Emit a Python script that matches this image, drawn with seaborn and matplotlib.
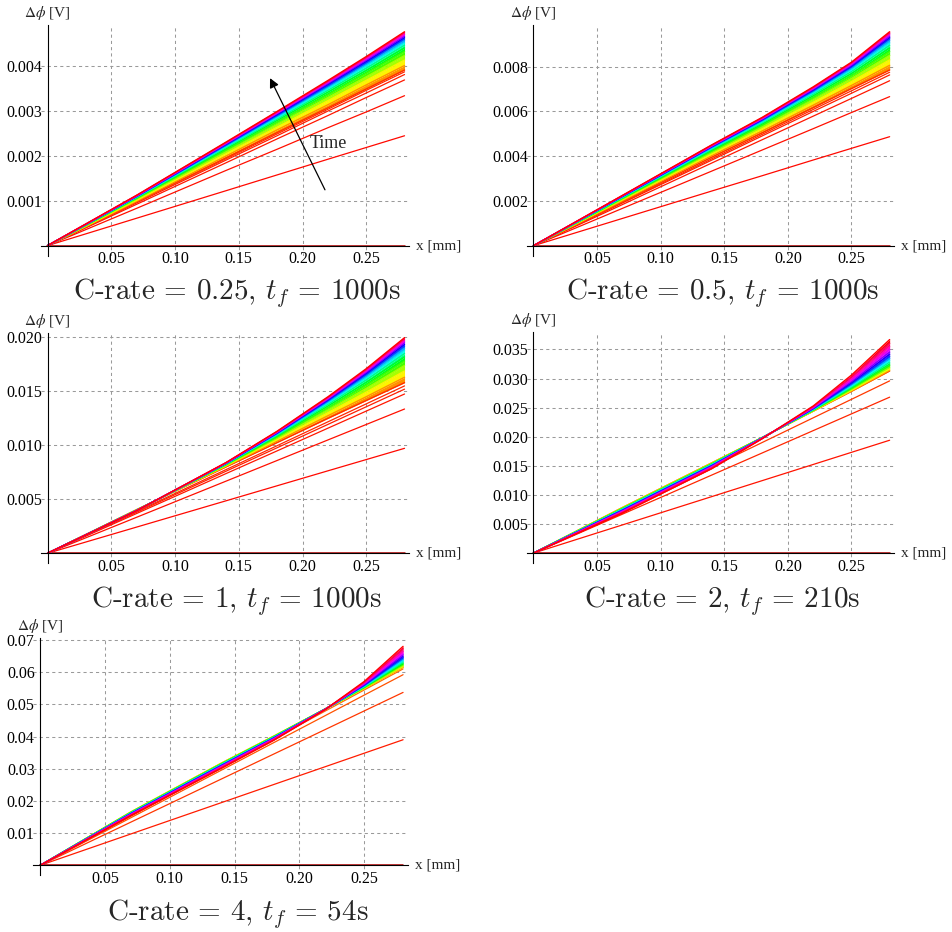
import numpy as np
import pandas as pd
import matplotlib
matplotlib.use('Agg')
import matplotlib.pyplot as plt
from matplotlib.colors import hsv_to_rgb
from matplotlib.ticker import AutoMinorLocator, FixedLocator, FixedFormatter
import seaborn as sns

x_mm = [0, 0.07, 0.14, 0.18, 0.22, 0.25, 0.28]

# curve values in mV; "early" = first separated red lines, "band" = rainbow fan (time order)
p1_early = [
    [0, 0, 0, 0, 0, 0, 0],
    [0, 0.61, 1.22, 1.57, 1.92, 2.18, 2.44],
    [0, 0.83, 1.67, 2.14, 2.62, 2.97, 3.33],
    [0, 0.92, 1.84, 2.37, 2.89, 3.29, 3.68],
    [0, 0.95, 1.90, 2.44, 2.99, 3.39, 3.80],
    [0, 0.97, 1.93, 2.48, 3.03, 3.45, 3.86],
]
p1_band = [
    [0, 0.98, 1.95, 2.51, 3.06, 3.48, 3.90],
    [0, 0.99, 1.99, 2.57, 3.13, 3.57, 4.00],
    [0, 1.01, 2.04, 2.63, 3.22, 3.67, 4.12],
    [0, 1.03, 2.08, 2.69, 3.29, 3.75, 4.22],
    [0, 1.05, 2.12, 2.74, 3.35, 3.83, 4.31],
    [0, 1.06, 2.15, 2.78, 3.41, 3.89, 4.39],
    [0, 1.07, 2.18, 2.81, 3.45, 3.94, 4.45],
    [0, 1.08, 2.20, 2.84, 3.49, 3.99, 4.50],
    [0, 1.09, 2.22, 2.87, 3.53, 4.03, 4.55],
    [0, 1.09, 2.23, 2.89, 3.55, 4.06, 4.59],
    [0, 1.10, 2.25, 2.91, 3.58, 4.09, 4.62],
    [0, 1.10, 2.26, 2.93, 3.60, 4.12, 4.65],
    [0, 1.11, 2.27, 2.94, 3.62, 4.14, 4.68],
    [0, 1.11, 2.28, 2.95, 3.64, 4.16, 4.70],
    [0, 1.12, 2.29, 2.97, 3.65, 4.18, 4.73],
    [0, 1.12, 2.30, 2.98, 3.67, 4.20, 4.75],
]

p2_early = [
    [0, 0, 0, 0, 0, 0, 0],
    [0, 1.22, 2.44, 3.13, 3.83, 4.35, 4.87],
    [0, 1.67, 3.33, 4.28, 5.23, 5.95, 6.66],
    [0, 1.84, 3.69, 4.74, 5.79, 6.58, 7.37],
    [0, 1.91, 3.82, 4.91, 6.00, 6.81, 7.63],
    [0, 1.94, 3.88, 4.98, 6.09, 6.92, 7.75],
]
p2_band = [
    [0, 1.98, 3.95, 5.05, 6.17, 7.02, 7.85],
    [0, 2.01, 4.02, 5.13, 6.28, 7.16, 8.06],
    [0, 2.05, 4.09, 5.23, 6.41, 7.33, 8.30],
    [0, 2.08, 4.16, 5.31, 6.52, 7.47, 8.50],
    [0, 2.11, 4.21, 5.38, 6.62, 7.59, 8.67],
    [0, 2.13, 4.26, 5.44, 6.70, 7.69, 8.83],
    [0, 2.15, 4.31, 5.50, 6.77, 7.78, 8.95],
    [0, 2.17, 4.34, 5.54, 6.83, 7.86, 9.06],
    [0, 2.19, 4.37, 5.58, 6.88, 7.92, 9.16],
    [0, 2.20, 4.40, 5.61, 6.92, 7.98, 9.24],
    [0, 2.21, 4.42, 5.64, 6.96, 8.02, 9.30],
    [0, 2.22, 4.44, 5.66, 6.99, 8.06, 9.36],
    [0, 2.23, 4.45, 5.68, 7.02, 8.10, 9.42],
    [0, 2.24, 4.47, 5.70, 7.05, 8.14, 9.47],
    [0, 2.24, 4.49, 5.72, 7.07, 8.17, 9.51],
    [0, 2.25, 4.50, 5.74, 7.10, 8.20, 9.56],
]

p3_early = [
    [0, 0, 0, 0, 0, 0, 0],
    [0, 2.43, 4.86, 6.25, 7.64, 8.68, 9.72],
    [0, 3.34, 6.68, 8.59, 10.50, 11.93, 13.36],
    [0, 3.69, 7.38, 9.48, 11.59, 13.17, 14.75],
    [0, 3.80, 7.60, 9.77, 11.94, 13.57, 15.20],
    [0, 3.88, 7.75, 9.96, 12.18, 13.84, 15.50],
]
p3_band = [
    [0, 4.05, 8.00, 10.25, 12.50, 14.15, 15.80],
    [0, 4.04, 8.05, 10.38, 12.74, 14.50, 16.30],
    [0, 4.02, 8.10, 10.52, 13.02, 14.92, 16.88],
    [0, 4.01, 8.15, 10.65, 13.26, 15.27, 17.39],
    [0, 4.00, 8.19, 10.75, 13.46, 15.57, 17.80],
    [0, 3.99, 8.23, 10.85, 13.64, 15.83, 18.18],
    [0, 3.99, 8.26, 10.93, 13.79, 16.05, 18.49],
    [0, 3.98, 8.28, 11.00, 13.92, 16.24, 18.76],
    [0, 3.97, 8.31, 11.05, 14.03, 16.41, 18.99],
    [0, 3.97, 8.32, 11.10, 14.12, 16.54, 19.18],
    [0, 3.97, 8.34, 11.14, 14.20, 16.66, 19.34],
    [0, 3.96, 8.35, 11.18, 14.27, 16.76, 19.49],
    [0, 3.96, 8.37, 11.21, 14.33, 16.85, 19.62],
    [0, 3.96, 8.38, 11.24, 14.39, 16.94, 19.74],
    [0, 3.95, 8.39, 11.27, 14.44, 17.02, 19.85],
    [0, 3.95, 8.40, 11.30, 14.50, 17.10, 19.97],
]

p4_early = [
    [0, 0, 0, 0, 0, 0, 0],
    [0, 4.85, 9.70, 12.47, 15.24, 17.32, 19.40],
    [0, 6.70, 13.40, 17.23, 21.06, 23.93, 26.80],
    [0, 7.40, 14.80, 19.03, 23.26, 26.43, 29.60],
]
p4_band = [
    [0, 7.85, 15.50, 19.90, 24.40, 27.80, 31.30],
    [0, 7.82, 15.47, 19.89, 24.43, 27.88, 31.46],
    [0, 7.78, 15.43, 19.89, 24.46, 28.00, 31.68],
    [0, 7.74, 15.38, 19.88, 24.51, 28.14, 31.95],
    [0, 7.69, 15.33, 19.87, 24.55, 28.28, 32.22],
    [0, 7.64, 15.28, 19.86, 24.60, 28.42, 32.49],
    [0, 7.58, 15.22, 19.84, 24.65, 28.58, 32.81],
    [0, 7.53, 15.16, 19.83, 24.71, 28.75, 33.14],
    [0, 7.47, 15.10, 19.82, 24.76, 28.92, 33.46],
    [0, 7.41, 15.04, 19.81, 24.81, 29.09, 33.78],
    [0, 7.35, 14.97, 19.79, 24.88, 29.28, 34.16],
    [0, 7.28, 14.90, 19.78, 24.94, 29.48, 34.54],
    [0, 7.20, 14.82, 19.76, 25.01, 29.70, 34.97],
    [0, 7.12, 14.73, 19.75, 25.09, 29.96, 35.46],
    [0, 7.01, 14.62, 19.72, 25.19, 30.26, 36.05],
    [0, 6.90, 14.50, 19.70, 25.30, 30.60, 36.70],
]

p5_early = [
    [0, 0, 0, 0, 0, 0, 0],
    [0, 9.75, 19.50, 25.07, 30.64, 34.82, 39.00],
    [0, 13.43, 26.85, 34.52, 42.19, 47.95, 53.70],
    [0, 14.80, 29.60, 38.06, 46.51, 52.86, 59.20],
    [0, 15.25, 30.50, 39.21, 47.93, 54.46, 61.00],
]
p5_band = [
    [0, 16.60, 31.80, 40.10, 48.60, 54.90, 61.50],
    [0, 16.57, 31.75, 40.06, 48.59, 54.97, 61.70],
    [0, 16.52, 31.69, 40.01, 48.59, 55.05, 61.96],
    [0, 16.46, 31.61, 39.94, 48.58, 55.16, 62.28],
    [0, 16.40, 31.53, 39.88, 48.57, 55.27, 62.61],
    [0, 16.35, 31.45, 39.81, 48.56, 55.38, 62.93],
    [0, 16.28, 31.35, 39.74, 48.54, 55.52, 63.32],
    [0, 16.21, 31.26, 39.66, 48.53, 55.65, 63.71],
    [0, 16.14, 31.16, 39.58, 48.52, 55.78, 64.10],
    [0, 16.07, 31.06, 39.50, 48.51, 55.91, 64.49],
    [0, 15.99, 30.95, 39.41, 48.49, 56.07, 64.95],
    [0, 15.91, 30.84, 39.32, 48.48, 56.22, 65.40],
    [0, 15.82, 30.71, 39.22, 48.46, 56.40, 65.92],
    [0, 15.71, 30.57, 39.10, 48.45, 56.59, 66.51],
    [0, 15.59, 30.39, 38.96, 48.42, 56.84, 67.22],
    [0, 15.45, 30.20, 38.80, 48.40, 57.10, 68.00],
]

c_rates = ['0.25', '0.5', '1', '2', '4']
t_final = ['1000', '1000', '1000', '210', '54']

x_ticks = [0.05, 0.10, 0.15, 0.20, 0.25]
x_tick_labels = ['0.05', '0.10', '0.15', '0.20', '0.25']
p1_yticks = [0.001, 0.002, 0.003, 0.004]
p1_ylabels = ['0.001', '0.002', '0.003', '0.004']
p2_yticks = [0.002, 0.004, 0.006, 0.008]
p2_ylabels = ['0.002', '0.004', '0.006', '0.008']
p3_yticks = [0.005, 0.010, 0.015, 0.020]
p3_ylabels = ['0.005', '0.010', '0.015', '0.020']
p4_yticks = [0.005, 0.010, 0.015, 0.020, 0.025, 0.030, 0.035]
p4_ylabels = ['0.005', '0.010', '0.015', '0.020', '0.025', '0.030', '0.035']
p5_yticks = [0.01, 0.02, 0.03, 0.04, 0.05, 0.06, 0.07]
p5_ylabels = ['0.01', '0.02', '0.03', '0.04', '0.05', '0.06', '0.07']

# ---- layout (pixels in a 952x932 canvas) ----
W, H = 952, 932
panels = [
    dict(early=p1_early, band=p1_band, yt=p1_yticks, yl=p1_ylabels,
         box=(40.5, 25, 409, 256), ylim=(-0.00023, 0.0049), h0=0.03, title=(237, 299)),
    dict(early=p2_early, band=p2_band, yt=p2_yticks, yl=p2_ylabels,
         box=(526.5, 25, 894.1, 256), ylim=(-0.00046, 0.00986), h0=0.03, title=(722.7, 299)),
    dict(early=p3_early, band=p3_band, yt=p3_yticks, yl=p3_ylabels,
         box=(40.5, 333, 409, 563), ylim=(-0.0009, 0.0204), h0=0.03, title=(236.7, 606.7)),
    dict(early=p4_early, band=p4_band, yt=p4_yticks, yl=p4_ylabels,
         box=(526.5, 332, 894.1, 563), ylim=(-0.0017, 0.038), h0=0.05, title=(722.5, 606.7)),
    dict(early=p5_early, band=p5_band, yt=p5_yticks, yl=p5_ylabels,
         box=(33.1, 638, 407.6, 875), ylim=(-0.003, 0.0706), h0=0.09, title=(237.5, 920)),
]

sns.set_style('white')
plt.rcParams['font.family'] = ['Liberation Serif', 'DejaVu Serif']
plt.rcParams['mathtext.fontset'] = 'stix'


def to_long(curves):
    rows = []
    for i, c in enumerate(curves):
        for x, v in zip(x_mm, c):
            rows.append(('c%02d' % i, x, v / 1000.0))
    return pd.DataFrame(rows, columns=['curve', 'x', 'dphi'])


def hue_colors(hues):
    return [tuple(hsv_to_rgb((h, 1.0, 1.0))) for h in hues]


fig = plt.figure(figsize=(W / 100, H / 100), dpi=100)

for i, p in enumerate(panels):
    l, t, r, b = p['box']
    ax = fig.add_axes([l / W, 1 - b / H, (r - l) / W, (b - t) / H])
    ax.set_facecolor('white')

    n_e, n_b = len(p['early']), len(p['band'])
    early_cols = hue_colors(np.linspace(0, p['h0'], n_e + 1)[:-1])
    band_cols = hue_colors(np.linspace(p['h0'], 1.0, n_b))

    # t = 0 curve lies on the axis
    df_e = to_long(p['early'])
    ax.plot(x_mm, [v / 1000.0 for v in p['early'][0]], color='#b00000', lw=1.1, zorder=2)
    sns.lineplot(data=df_e[df_e.curve != 'c00'], x='x', y='dphi', hue='curve',
                 palette=early_cols[1:], estimator=None, legend=False, lw=0.9, ax=ax)

    # rainbow fan: fill between successive curves, then draw the curves
    band = p['band']
    for k in range(1, n_b):
        ax.fill_between(x_mm, [v / 1000.0 for v in band[k - 1]], [v / 1000.0 for v in band[k]],
                        color=band_cols[k], lw=0, zorder=2.1)
    df_b = to_long(band)
    sns.lineplot(data=df_b, x='x', y='dphi', hue='curve', palette=band_cols,
                 estimator=None, legend=False, lw=1.0, ax=ax, zorder=2.2)

    ax.set_xlim(-0.0055, 0.2835)
    ax.set_ylim(*p['ylim'])
    ax.set_xlabel('')
    ax.set_ylabel('')
    for s in ['top', 'right']:
        ax.spines[s].set_visible(False)
    ax.spines['left'].set_position(('data', 0))
    ax.spines['bottom'].set_position(('data', 0))
    for s in ['left', 'bottom']:
        ax.spines[s].set_linewidth(0.8)
        ax.spines[s].set_color('black')

    ax.xaxis.set_major_locator(FixedLocator(x_ticks))
    ax.xaxis.set_major_formatter(FixedFormatter(x_tick_labels))
    ax.yaxis.set_major_locator(FixedLocator(p['yt']))
    ax.yaxis.set_major_formatter(FixedFormatter(p['yl']))
    ax.xaxis.set_minor_locator(AutoMinorLocator(5))
    ax.yaxis.set_minor_locator(AutoMinorLocator(5))
    ax.tick_params(which='major', direction='inout', length=5, width=0.7,
                   labelsize=11.5, pad=1.5, colors='black')
    ax.tick_params(which='minor', direction='in', length=2.5, width=0.5)
    ax.grid(True, which='major', color='#9a9a9a', ls=(0, (3, 3)), lw=0.75)
    ax.set_axisbelow(True)

    ax.annotate(r'$\Delta\phi$ [V]', xy=(0, 1), xycoords=('data', 'axes fraction'),
                xytext=(0, 5.5), textcoords='offset points', ha='center', va='baseline',
                fontsize=11)
    ax.annotate('x [mm]', xy=(1, 0), xycoords=('axes fraction', 'data'),
                xytext=(5, 0), textcoords='offset points', ha='left', va='center',
                fontsize=11)

    tx, ty = p['title']
    fig.text(tx / W, 1 - ty / H, 'C-rate = %s, $t_f$ = %ss' % (c_rates[i], t_final[i]),
             ha='center', va='baseline', fontsize=21, fontfamily='cmr10', math_fontfamily='cm')

    if i == 0:
        ax.annotate('', xy=(0.1745, 0.00372), xytext=(0.2176, 0.00124),
                    arrowprops=dict(arrowstyle='-|>', color='black', lw=0.9,
                                    mutation_scale=14, shrinkA=0, shrinkB=0), zorder=5)
        ax.text(0.2055, 0.00227, 'Time', ha='left', va='center', fontsize=13, zorder=5)

fig.savefig('out.png', dpi=100)
